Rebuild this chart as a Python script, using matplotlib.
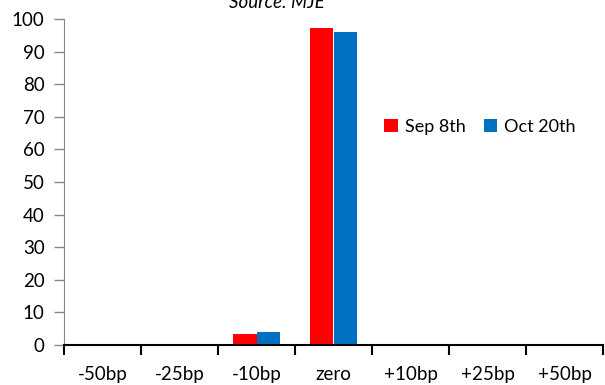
import numpy as np
import matplotlib
matplotlib.use('Agg')
import matplotlib.pyplot as plt

plt.rcParams['font.family'] = ['Lato', 'DejaVu Sans']

#Data
categories = ['-50bp', '-25bp', '-10bp', 'zero', '+10bp', '+25bp', '+50bp']
sep_8th = [0, 0, 3.4, 97.2, 0, 0, 0]
oct_20th = [0, 0, 4.0, 96.1, 0, 0, 0]

fig = plt.figure(figsize=(6.05, 3.85), dpi=100)
ax = fig.add_axes([64/605, 40/385, 539/605, 326/385])

x = np.arange(len(categories))
w = 0.3
ax.bar(x - w/2, sep_8th, w, color='#ff0000', label='Sep 8th')
ax.bar(x + w/2, oct_20th, w, color='#0070c0', label='Oct 20th')

ax.set_xlim(-0.5, len(categories) - 0.5)
ax.set_ylim(0, 100)
ax.set_yticks(np.arange(0, 101, 10))

#Boundary ticks (major, unlabeled), centered labels (minor)
ax.set_xticks(np.arange(-0.5, len(categories), 1))
ax.set_xticklabels([])
ax.set_xticks(x, minor=True)
ax.set_xticklabels(categories, minor=True)
ax.tick_params(axis='x', which='major', length=7, width=1.5, color='black', direction='out')
ax.tick_params(axis='x', which='minor', length=0, labelsize=13.5, pad=15)
ax.tick_params(axis='y', length=7, width=1, color='#888888', labelsize=13.5, pad=7)

for s in ['top', 'right']:
    ax.spines[s].set_visible(False)
ax.spines['left'].set_color('#888888')
ax.spines['bottom'].set_color('black')
ax.spines['bottom'].set_linewidth(1.5)

ax.legend(loc='center', bbox_to_anchor=(480/605, 258/385), bbox_transform=fig.transFigure,
          ncol=2, frameon=False, fontsize=13, handlelength=0.75, handleheight=0.75,
          handletextpad=0.4, columnspacing=1.0)

fig.text(277/605, 1 - 8/385, 'Source: MJE', ha='center', va='baseline', style='italic', fontsize=13.5)

plt.savefig('out.png', dpi=100)
